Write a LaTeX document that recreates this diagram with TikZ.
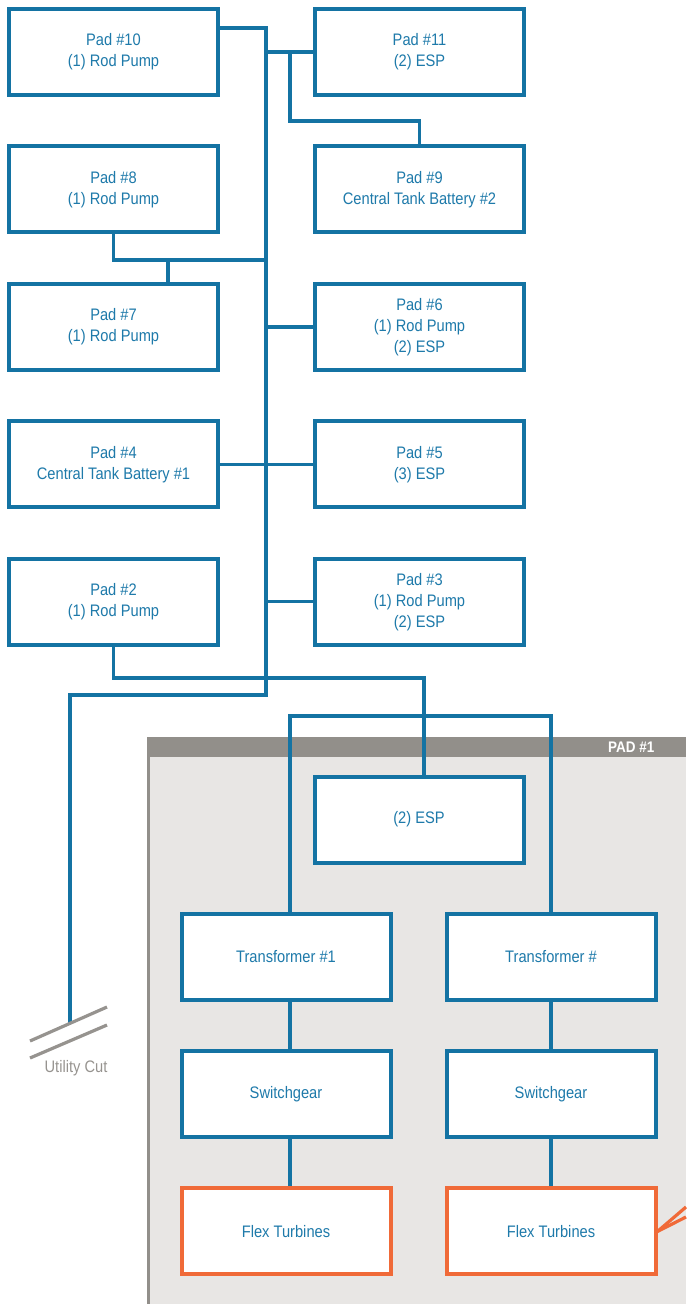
\documentclass[tikz,border=0pt]{standalone}
\usepackage{fontspec}
\setmainfont{Liberation Sans}[FakeStretch=0.88]
\usetikzlibrary{positioning}
\definecolor{padblue}{RGB}{20,115,163}
\definecolor{textblue}{RGB}{30,122,170}
\definecolor{turbine}{RGB}{240,106,56}
\definecolor{headgray}{RGB}{146,143,138}
\definecolor{panelgray}{RGB}{232,230,228}
\definecolor{cutgray}{RGB}{150,147,143}

\begin{document}
\begin{tikzpicture}[x=0.75pt,y=-0.75pt,node distance=35.6pt and 69.75pt,
    padbox/.style={draw=padblue,line width=3pt,fill=white,minimum width=156.75pt,minimum height=64.5pt,align=center,text=textblue,font=\fontsize{12.5}{15.75}\selectfont},
    turbinebox/.style={padbox,draw=turbine},
    link/.style={draw=padblue,line width=2.4pt}]
        \useasboundingbox (0,0) rectangle (686,1304);
        % pad #1 panel
        \fill[headgray] (147,737) rectangle (686,1304);
        \fill[panelgray] (150,757) rectangle (686,1304);
        \node[anchor=east,text=white,font=\bfseries\fontsize{11.5}{13}\selectfont] (padlabel) at (659,747) {PAD \#1};
        % pads
        \node[padbox] (pad10) at (113.5,52) {Pad \#10\\(1) Rod Pump};
        \node[padbox,right=of pad10] (pad11) {Pad \#11\\(2) ESP};
        \node[padbox,below=of pad10] (pad8) {Pad \#8\\(1) Rod Pump};
        \node[padbox,right=of pad8] (pad9) {Pad \#9\\Central Tank Battery \#2};
        \node[padbox,below=of pad8] (pad7) {Pad \#7\\(1) Rod Pump};
        \node[padbox,right=of pad7] (pad6) {Pad \#6\\(1) Rod Pump\\(2) ESP};
        \node[padbox,below=of pad7] (pad4) {Pad \#4\\Central Tank Battery \#1};
        \node[padbox,right=of pad4] (pad5) {Pad \#5\\(3) ESP};
        \node[padbox,below=of pad4] (pad2) {Pad \#2\\(1) Rod Pump};
        \node[padbox,right=of pad2] (pad3) {Pad \#3\\(1) Rod Pump\\(2) ESP};
        % inside pad #1
        \node[padbox] (esp) at (419,819.5) {(2) ESP};
        \node[padbox] (tr1) at (286,956.5) {Transformer \#1};
        \node[padbox,right=39pt of tr1] (tr2) {Transformer \#};
        \node[padbox,below=of tr1] (sw1) {Switchgear};
        \node[padbox,below=of tr2] (sw2) {Switchgear};
        \node[turbinebox,below=of sw1] (ft1) {Flex Turbines};
        \node[turbinebox,below=of sw2] (ft2) {Flex Turbines};
        % junctions
        \coordinate (trunk) at (266,28);
        \coordinate (j9) at (290,52);
        \coordinate (j8) at (168,260);
        \coordinate (j2) at (424,678);
        \coordinate (jt) at (290,716);
        \coordinate (cut) at (70,1023);
        \coordinate (out1) at (686,1207);
        \coordinate (out2) at (686,1217);
        % connectors
        \draw[link] (trunk -| pad10.east) -- (trunk) -- (trunk |- 0,695) -| (cut);
        \draw[link] (pad11.west) -- (pad11.west -| trunk);
        \draw[link] (j9) -- ++(0,69) -| (pad9.north);
        \draw[link] (pad8.south) |- (j8 -| trunk);
        \draw[link] (j8) -- (j8 |- pad7.north);
        \draw[link] (pad6.west) -- (pad6.west -| trunk);
        \draw[link] (pad4.east) -- (pad5.west);
        \draw[link] (pad3.west) -- (pad3.west -| trunk);
        \draw[link] (pad2.south) |- (j2) -- (j2 |- esp.north);
        \draw[link] (tr1.north -| jt) -- (jt) -| (tr2.north);
        \draw[link] (tr1.south -| jt) -- (sw1.north -| jt);
        \draw[link] (sw1.south -| jt) -- (ft1.north -| jt);
        \draw[link] (tr2.south) -- (sw2.north);
        \draw[link] (sw2.south) -- (ft2.north);
        \draw[turbine,line width=2.4pt] (ft2.east) -- (out1);
        \draw[turbine,line width=2.4pt] (ft2.east) -- (out2);
        % utility cut
        \draw[cutgray,line width=2.4pt] (30,1041) -- (107,1007);
        \draw[cutgray,line width=2.4pt] (30,1058) -- (107,1025);
        \node[text=cutgray,font=\fontsize{12.5}{15}\selectfont] (cutlabel) at (76,1068) {Utility Cut};
    \end{tikzpicture}
\end{document}
